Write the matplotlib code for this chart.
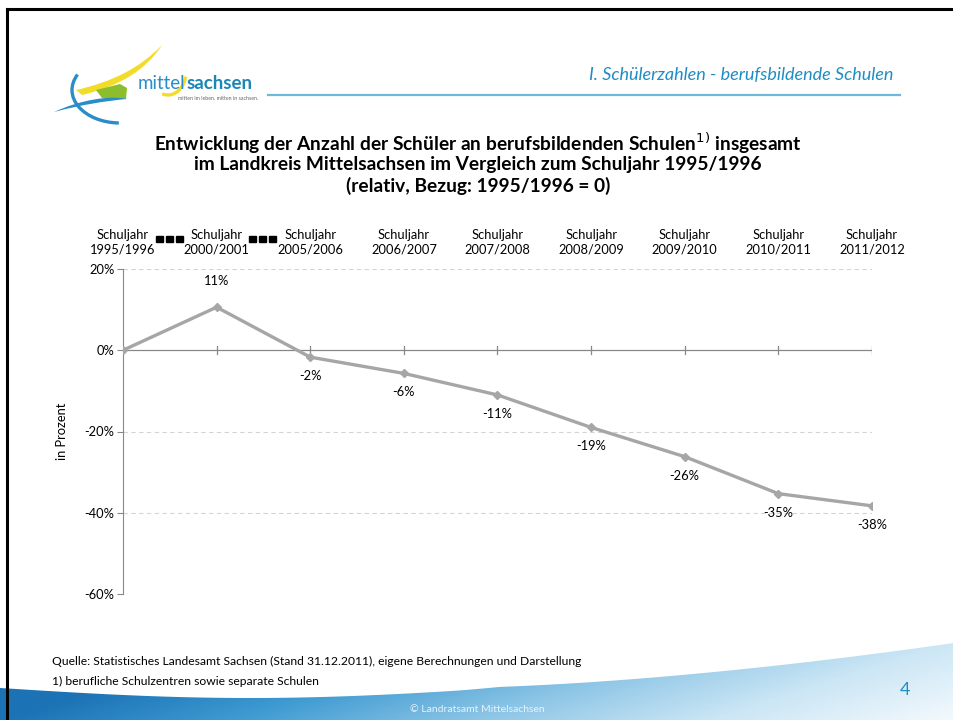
import numpy as np
import matplotlib
matplotlib.use('Agg')
import matplotlib.pyplot as plt
from matplotlib.patches import Polygon, PathPatch, Arc, Rectangle
from matplotlib.path import Path

plt.rcParams['font.family'] = ['Lato', 'DejaVu Sans']

years = ['1995/1996', '2000/2001', '2005/2006', '2006/2007', '2007/2008',
         '2008/2009', '2009/2010', '2010/2011', '2011/2012']
change = [0.0, 10.6, -1.7, -5.7, -11.0, -19.0, -26.2, -35.3, -38.3]
labels = ['', '11%', '-2%', '-6%', '-11%', '-19%', '-26%', '-35%', '-38%']
yticks = [20, 0, -20, -40, -60]

W, H = 954, 720
fig = plt.figure(figsize=(W / 100, H / 100), dpi=100)

# background layer in pixel coords
bg = fig.add_axes([0, 0, 1, 1])
bg.set_xlim(0, W)
bg.set_ylim(H, 0)
bg.axis('off')

# footer swoosh with gradient
xs = np.linspace(0, W, 200)
top_edge = 688 + 10 * np.sin(np.pi * xs / 500) * (xs < 500) - 45 * np.clip((xs - 450) / 504, 0, 1) ** 1.6
verts = list(zip(xs, top_edge)) + [(W, H), (0, H)]
gx = np.linspace(0, 1, 256)
gy = np.linspace(0, 1, 40)[:, None]
field = np.clip(gx[None, :] - 0.25 * gy, 0, 1)
cmap = matplotlib.colors.LinearSegmentedColormap.from_list(
    'sw', ['#1b72b5', '#3f9bd2', '#8cc5e6', '#cbe6f5', '#f2f9fd'])
img = bg.imshow(field, extent=[0, W, 640, H], origin='upper', aspect='auto', cmap=cmap, zorder=1)
poly = Polygon(verts, closed=True, transform=bg.transData, facecolor='none', edgecolor='none')
bg.add_patch(poly)
img.set_clip_path(poly)

# slide border
bg.plot([7, 7], [9, H], color='black', lw=2.2, zorder=5)
bg.plot([7, W], [9, 9], color='black', lw=2.2, zorder=5)

# logo
bg.add_patch(Arc((120, 90), 96, 66, theta1=92, theta2=200, color='#2a8dc8', lw=2.4, zorder=3))
yellow = Path([(76, 90), (112, 82), (140, 68), (162, 45), (146, 70), (120, 86), (82, 95), (76, 90)],
              [Path.MOVETO, Path.CURVE4, Path.CURVE4, Path.CURVE4, Path.CURVE4, Path.CURVE4, Path.CURVE4, Path.CLOSEPOLY])
bg.add_patch(PathPatch(yellow, facecolor='#f2dc2a', edgecolor='none', zorder=3))
bg.add_patch(Arc((168, 72), 36, 46, theta1=15, theta2=105, color='#f2dc2a', lw=2.4, zorder=3))
green = Polygon([(96, 90), (120, 84), (127, 88), (126, 99), (102, 98)], closed=True,
                facecolor='#8cbd2c', edgecolor='none', zorder=3)
bg.add_patch(green)
blue_sw = Path([(54, 112), (80, 100), (110, 95), (127, 99), (105, 101), (80, 105), (54, 112)],
               [Path.MOVETO, Path.CURVE4, Path.CURVE4, Path.CURVE4, Path.CURVE4, Path.CURVE4, Path.CLOSEPOLY])
bg.add_patch(PathPatch(blue_sw, facecolor='#2a8dc8', edgecolor='none', zorder=3))
t1 = bg.text(138, 89, 'mittel', color='#2a8dc8', fontsize=13.5, va='baseline', ha='left', zorder=4)
fig.canvas.draw()
r = fig.canvas.get_renderer()
ext = t1.get_window_extent(r)
bg.text(ext.x1 + 0.5, 89, 'sachsen', color='#1d86b8', fontsize=13.5, fontweight='bold',
        va='baseline', ha='left', zorder=4)
bg.text(258, 100, 'mitten im leben. mitten in sachsen.', color='#666666', fontsize=3.8,
        ha='right', va='baseline', zorder=4)

# header
bg.text(893, 75, 'I. Schülerzahlen - berufsbildende Schulen', color='#1f8dc4', fontsize=13,
        style='italic', ha='right', va='center', zorder=4)
bg.plot([268, 900], [95, 95], color='#6fb8d8', lw=1.6, zorder=4)

# title
title = ['Entwicklung der Anzahl der Schüler an berufsbildenden Schulen$^{1)}$ insgesamt',
         'im Landkreis Mittelsachsen im Vergleich zum Schuljahr 1995/1996',
         '(relativ, Bezug: 1995/1996 = 0)']
for i, t in enumerate(title):
    bg.text(478, 143 + 21.5 * i, t, fontsize=13.8, fontweight='bold', ha='center', va='center', zorder=4)

# notes
bg.text(52, 661, 'Quelle: Statistisches Landesamt Sachsen (Stand 31.12.2011), eigene Berechnungen und Darstellung',
        fontsize=8.7, ha='left', va='center', zorder=4)
bg.text(52, 681, '1) berufliche Schulzentren sowie separate Schulen', fontsize=8.7, ha='left', va='center', zorder=4)
bg.text(905, 690, '4', fontsize=13, color='#1f8dc4', ha='center', va='center', zorder=4)
bg.text(477, 709, '© Landratsamt Mittelsachsen', fontsize=7.5, color='#e8f2fa', ha='center', va='center', zorder=4)

# chart
ax = fig.add_axes([123 / W, 1 - 594 / H, 749 / W, 325 / H])
ax.patch.set_alpha(0)
x = np.arange(len(years))
ax.plot(x, change, color='#a6a6a6', lw=2.4, marker='D', markersize=3.8, zorder=3)
ax.set_xlim(0, len(years) - 1)
ax.set_ylim(-60, 20)
ax.set_yticks(yticks)
ax.set_yticklabels([f'{v}%' for v in yticks], fontsize=9.3)
ax.tick_params(axis='y', length=4, color='#888888', pad=2)
for v in yticks:
    if v != 0:
        ax.axhline(v, color='#d4d4d4', lw=0.8, ls=(0, (4, 3)), zorder=1)
ax.axhline(0, color='#888888', lw=0.9, zorder=2)
for xi in x[1:]:
    ax.plot([xi, xi], [-1.0, 1.0], color='#888888', lw=0.9, zorder=2)
for s in ['top', 'right', 'bottom']:
    ax.spines[s].set_visible(False)
ax.spines['left'].set_color('#888888')
ax.set_xticks([])
ax.set_ylabel('in Prozent', fontsize=9.3)
ax.yaxis.set_label_coords(-0.074, 0.5)

for xi, yv, lab in zip(x, change, labels):
    if not lab:
        continue
    off = 26 if yv > 0 else -19
    ax.annotate(lab, (xi, yv), textcoords='offset pixels', xytext=(0, off),
                ha='center', va='center', fontsize=9.3)

for xi, yr in zip(x, years):
    ax.annotate('Schuljahr\n' + yr, (xi, 20), textcoords='offset pixels', xytext=(0, 27),
                ha='center', va='center', fontsize=9.3, linespacing=1.25, annotation_clip=False)

# black squares between first three labels
for cx in [170, 263]:
    for dx in [-10, 0, 10]:
        bg.add_patch(Rectangle((cx + dx - 3.5, 236), 7, 6, color='black', zorder=4))

fig.savefig('out.png', dpi=100)
